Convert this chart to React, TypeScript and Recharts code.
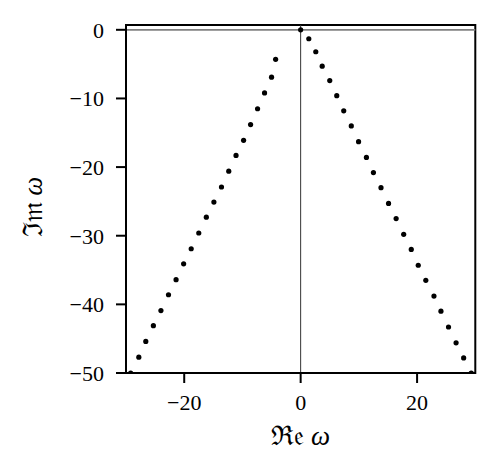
import { ReferenceArea, ReferenceLine, Scatter, ScatterChart, XAxis, YAxis } from "recharts";

// right-hand branch of modes (Re, Im)
const rightRe = [0, 1.4, 2.6, 3.7, 5.0, 6.2, 7.4, 8.7, 9.95, 11.3, 12.5, 13.8, 15.1, 16.4, 17.7, 19.0, 20.2, 21.5, 22.9, 24.1, 25.4, 26.7, 28.0, 29.3];
const rightIm = [0, -1.3, -3.2, -5.3, -7.4, -9.6, -11.8, -14.0, -16.3, -18.6, -20.8, -23.0, -25.3, -27.5, -29.8, -32.0, -34.3, -36.5, -38.8, -41.0, -43.3, -45.6, -47.8, -50.0];

// left-hand branch
const leftRe = [-4.3, -5.0, -6.2, -7.4, -8.6, -9.8, -11.1, -12.35, -13.6, -14.9, -16.2, -17.5, -18.8, -20.1, -21.4, -22.7, -24.0, -25.3, -26.6, -27.8, -29.2];
const leftIm = [-4.3, -6.9, -9.2, -11.5, -13.8, -16.1, -18.3, -20.6, -22.9, -25.1, -27.3, -29.6, -31.9, -34.1, -36.4, -38.6, -40.9, -43.1, -45.4, -47.7, -50.0];

const xTicks = [-20, 0, 20];
const yTicks = [0, -10, -20, -30, -40, -50];

const points = [
  ...rightRe.map((re, i) => ({ re, im: rightIm[i] })),
  ...leftRe.map((re, i) => ({ re, im: leftIm[i] })),
];

const FONT = "'Liberation Serif', 'DejaVu Serif', serif";
const tickStyle = { fill: "#000", fontSize: 22, fontFamily: FONT };
const fmt = (v: number) => (v < 0 ? `\u2212${Math.abs(v)}` : `${v}`);

const Dot = (props: any) => <circle cx={props.cx} cy={props.cy} r={2.6} fill="#000" />;

const XLabel = (props: any) => {
  const { x, width } = props.viewBox;
  return (
    <text x={x + width / 2} y={445} textAnchor="middle" fontSize={27} fontFamily={FONT} fill="#000">
      {"\u211C\u{1D522} "}
      <tspan fontStyle="italic">{"\u03C9"}</tspan>
    </text>
  );
};

const YLabel = (props: any) => {
  const { y, height } = props.viewBox;
  const cx = 42;
  const cy = y + height / 2 + 8;
  return (
    <text
      x={cx}
      y={cy}
      transform={`rotate(-90 ${cx} ${cy})`}
      textAnchor="middle"
      fontSize={27}
      fontFamily={FONT}
      fill="#000"
    >
      {"\u2111\u{1D52A} "}
      <tspan fontStyle="italic">{"\u03C9"}</tspan>
    </text>
  );
};

export default function App() {
  return (
    <div style={{ position: "absolute", left: 0, top: 0, background: "#fff" }}>
      <ScatterChart width={499} height={474} margin={{ top: 25, right: 23.7, bottom: 0, left: 0 }}>
        <XAxis
          type="number"
          dataKey="re"
          domain={[-30, 30]}
          ticks={xTicks}
          allowDataOverflow
          height={101}
          tickFormatter={fmt}
          tick={tickStyle}
          tickSize={10}
          tickMargin={11}
          axisLine={{ stroke: "#000", strokeWidth: 2 }}
          tickLine={{ stroke: "#000", strokeWidth: 2 }}
          label={<XLabel />}
        />
        <YAxis
          type="number"
          dataKey="im"
          domain={[-50, 0.7]}
          ticks={yTicks}
          allowDataOverflow
          width={126}
          tickFormatter={fmt}
          tick={tickStyle}
          tickSize={10}
          tickMargin={12}
          axisLine={{ stroke: "#000", strokeWidth: 2 }}
          tickLine={{ stroke: "#000", strokeWidth: 2 }}
          label={<YLabel />}
        />
        <ReferenceLine y={0} stroke="#808080" strokeWidth={1.7} />
        <ReferenceLine x={0} stroke="#333" strokeWidth={1} />
        <Scatter data={points} shape={Dot} isAnimationActive={false} />
        <ReferenceArea x1={-30} x2={30} y1={-50} y2={0.7} fill="none" stroke="#000" strokeWidth={2} />
      </ScatterChart>
    </div>
  );
}
